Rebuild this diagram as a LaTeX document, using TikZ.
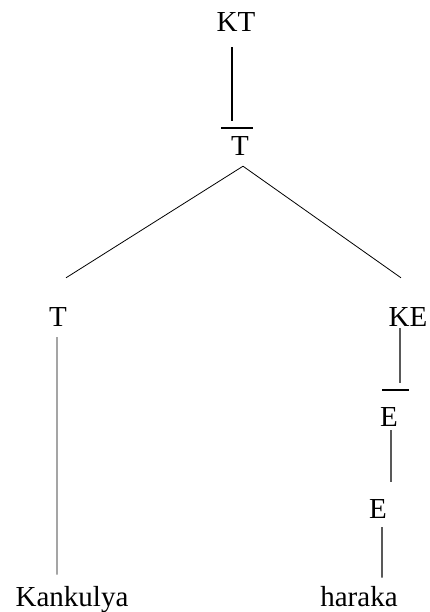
\documentclass[tikz,border=0pt]{standalone}
\usepackage{fontspec}
\setmainfont{Liberation Serif}
\begin{document}
\begin{tikzpicture}[x=1bp,y=-1bp,
    lbl/.style={inner sep=0,anchor=base,font=\fontsize{29bp}{34bp}\selectfont},
    bar/.style={line width=1.6bp},
    thin/.style={line width=.8bp}]
  \useasboundingbox (0,0) rectangle (429,612);
  % labels
  \node[lbl] (kt) at (236,32) {KT};
  \node[lbl] (tbar) at (240,156) {T};
  \node[lbl] (tl) at (58,326) {T};
  \node[lbl] (ke) at (408,326) {KE};
  \node[lbl] (ebar) at (389,426) {E};
  \node[lbl] (e) at (378,518) {E};
  \node[lbl] (kank) at (72,606) {Kankulya};
  \node[lbl] (har) at (359,606) {haraka};
  % bars over T and E
  \draw[bar] ([xshift=-19bp,yshift=9bp]tbar.north) -- ([xshift=13bp,yshift=9bp]tbar.north);
  \draw[bar] ([xshift=-7bp,yshift=17bp]ebar.north) -- ([xshift=20bp,yshift=17bp]ebar.north);
  % branches
  \draw[bar] ([xshift=-4bp,yshift=-15bp]kt.south) -- ([xshift=-8bp,yshift=16bp]tbar.north);
  \draw[thin] ([xshift=3bp,yshift=-10bp]tbar.south) -- ([xshift=8bp,yshift=29bp]tl.north);
  \draw[thin] ([xshift=3bp,yshift=-10bp]tbar.south) -- ([xshift=-7bp,yshift=29bp]ke.north);
  \draw[thin] ([xshift=-1bp,yshift=-11bp]tl.south) -- ([xshift=-15bp,yshift=11bp]kank.north);
  \draw[line width=1.2bp] ([xshift=-8bp,yshift=-2bp]ke.south) -- ([xshift=11bp,yshift=24bp]ebar.north);
  \draw[line width=1.2bp] ([xshift=2bp,yshift=-4bp]ebar.south) -- ([xshift=13bp,yshift=17bp]e.north);
  \draw[line width=1.2bp] ([xshift=4bp,yshift=-9bp]e.south) -- ([xshift=23bp,yshift=8bp]har.north);
\end{tikzpicture}
\end{document}
